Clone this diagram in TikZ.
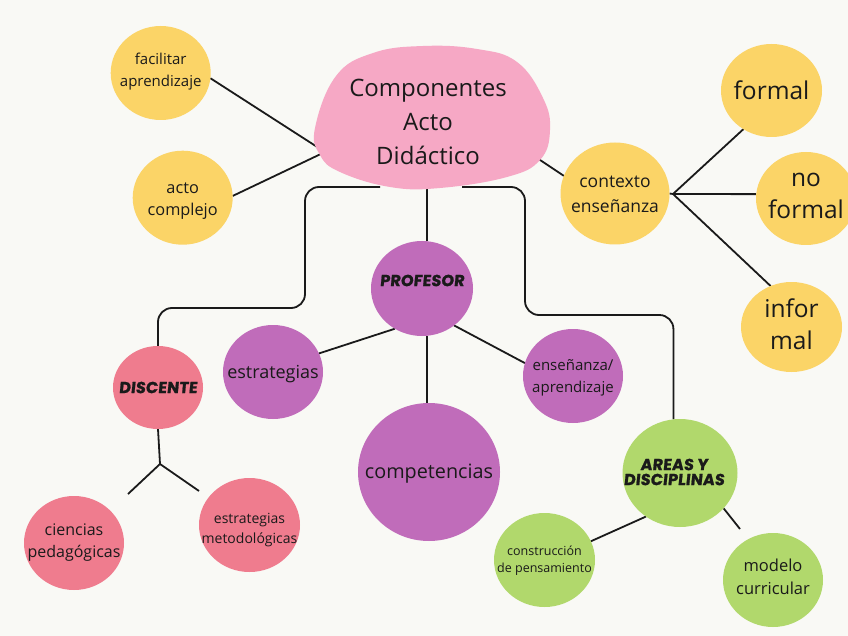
\documentclass[tikz,border=0pt]{standalone}
\usepackage{fontspec}
\setmainfont{Open Sans}
\newfontfamily\handfont{Poppins}[FakeSlant=0.1,FakeBold=1.2,LetterSpace=1]
\usetikzlibrary{shapes.geometric}
\pgfdeclarelayer{back}\pgfdeclarelayer{lines}
\pgfsetlayers{back,lines,main}
\definecolor{bgc}{HTML}{F9F9F5}
\definecolor{ink}{HTML}{1A1A1A}
\definecolor{yel}{HTML}{FBD467}
\definecolor{blob}{HTML}{F6A8C5}
\definecolor{purp}{HTML}{C06CBA}
\definecolor{rosa}{HTML}{EF7C8E}
\definecolor{verde}{HTML}{B1D86C}
\newcommand\fs[2]{\fontsize{#1}{#2}\selectfont}
\tikzset{
  bub/.style={ellipse, inner sep=0pt, outer sep=0pt},
  lbl/.style={align=center, text=ink, inner sep=0pt},
  conn/.style={draw=ink, line width=1.8pt},
  hand/.style={lbl, font=\handfont\bfseries\fs{16}{15}}
}
\begin{document}
\begin{tikzpicture}[x=1pt,y=-1pt]
\begin{pgfonlayer}{back}
\fill[bgc] (0,0) rectangle (848,636);
\end{pgfonlayer}
\useasboundingbox (0,0) rectangle (848,636);

% central blob
\fill[blob] plot[smooth cycle, tension=0.7] coordinates {(315,128) (336,76) (373,53) (423,46) (477,49) (517,62) (543,98) (550,130) (540,160) (507,177) (440,188) (390,187) (340,172) (320,155)};
\node[lbl, font=\fs{24}{34}] (main) at (428,122) {Componentes\\Acto\\Did\'actico};
\coordinate (hub) at (325,152);
\coordinate (bL) at (380,187);
\coordinate (bM) at (427,188);
\coordinate (bR) at (462,187);
\coordinate (bC) at (537,158);

% yellow nodes
\node[bub, fill=yel, minimum width=100pt, minimum height=94pt,
  label={[lbl, font=\fs{15}{22}, yshift=1pt]center:{facilitar\\aprendizaje}}] (fac) at (160.7,73) {};
\node[bub, fill=yel, minimum width=100pt, minimum height=94pt,
  label={[lbl, font=\fs{16.3}{22}, yshift=-3pt]center:{acto\\complejo}}] (acto) at (182.7,197.7) {};
\node[bub, fill=yel, minimum width=109pt, minimum height=102pt,
  label={[lbl, font=\fs{17.5}{25}, yshift=-1pt]center:{contexto\\ense\~nanza}}] (cont) at (615,193.5) {};
\node[bub, fill=yel, minimum width=101pt, minimum height=93pt,
  label={[lbl, font=\fs{24.5}{32}]center:{formal}}] (formal) at (771.5,90.5) {};
\node[bub, fill=yel, minimum width=100pt, minimum height=93pt,
  label={[lbl, font=\fs{24.5}{32}, yshift=3pt]center:{no\\formal}}] (noformal) at (806,198.5) {};
\node[bub, fill=yel, minimum width=101pt, minimum height=90pt,
  label={[lbl, font=\fs{24.5}{32}, yshift=3pt]center:{infor\\mal}}] (informal) at (791.5,327) {};
\coordinate (jC) at (673,194);

% purple
\node[bub, fill=purp, minimum width=102pt, minimum height=95pt,
  label={[hand, yshift=8pt]center:{PROFESOR}}] (prof) at (422,288.5) {};
\node[bub, fill=purp, minimum width=100pt, minimum height=94pt,
  label={[lbl, font=\fs{18}{22}, yshift=-2pt]center:{estrategias}}] (estr) at (273,372) {};
\node[bub, fill=purp, minimum width=100pt, minimum height=94pt,
  label={[lbl, font=\fs{15}{22}, yshift=-2pt]center:{ense\~nanza/\\aprendizaje}}] (ens) at (573,376) {};
\node[bub, fill=purp, minimum width=142pt, minimum height=138pt,
  label={[lbl, font=\fs{19.8}{24}, yshift=-2pt]center:{competencias}}] (comp) at (429,472) {};

% rosa
\node[bub, fill=rosa, minimum width=90pt, minimum height=83pt,
  label={[hand]center:{DISCENTE}}] (dis) at (158,387.5) {};
\node[bub, fill=rosa, minimum width=100pt, minimum height=94pt,
  label={[lbl, font=\fs{16}{22}]center:{ciencias\\pedag\'ogicas}}] (cien) at (74,543) {};
\node[bub, fill=rosa, minimum width=101pt, minimum height=94pt,
  label={[lbl, font=\fs{14}{20}, yshift=-5pt]center:{estrategias\\metodol\'ogicas}}] (met) at (249.5,525) {};
\coordinate (jD) at (160,464);
\coordinate (dA) at (128,494);
\coordinate (dB) at (199,491);

% verde
\node[bub, fill=verde, minimum width=115pt, minimum height=108pt,
  label={[hand, xshift=-6pt, yshift=1pt]center:{AREAS Y\\DISCIPLINAS}}] (areas) at (680,473) {};
\node[bub, fill=verde, minimum width=101pt, minimum height=94pt,
  label={[lbl, font=\fs{12.5}{17}, yshift=-1pt]center:{construcci\'on\\de pensamiento}}] (cons) at (544.5,560) {};
\node[bub, fill=verde, minimum width=100pt, minimum height=94pt,
  label={[lbl, font=\fs{16.5}{23}, yshift=3pt]center:{modelo\\curricular}}] (mod) at (773,580) {};
\coordinate (mA) at (740,529);

\begin{pgfonlayer}{lines}
\draw[conn] (fac.-6) -- (hub) -- (acto.2);
\draw[conn] (bC) -- (cont.161);
\draw[conn] (jC) -- (formal.234);
\draw[conn] (jC) -- (noformal.175);
\draw[conn] (jC) -- (informal.117);
\draw[conn] (jC) -- (cont.east);
\draw[conn, rounded corners=14pt] (bL) -| (305,308) -| (dis.north);
\draw[conn] (bM) -- (bM |- prof.north);
\draw[conn, rounded corners=14pt] (bR) -| (525,315) -| (areas.97);
\draw[conn] (prof.236) -- (estr.22);
\draw[conn] (prof.-49) -- (ens.165);
\draw[conn] (prof.south -| bM) -- (comp.north -| bM);
\draw[conn] (dis.south) -- (jD);
\draw[conn] (dA) -- (jD) -- (dB);
\draw[conn] (areas.232) -- (cons.22);
\draw[conn] (areas.-39) -- (mA);
\end{pgfonlayer}
\end{tikzpicture}
\end{document}
